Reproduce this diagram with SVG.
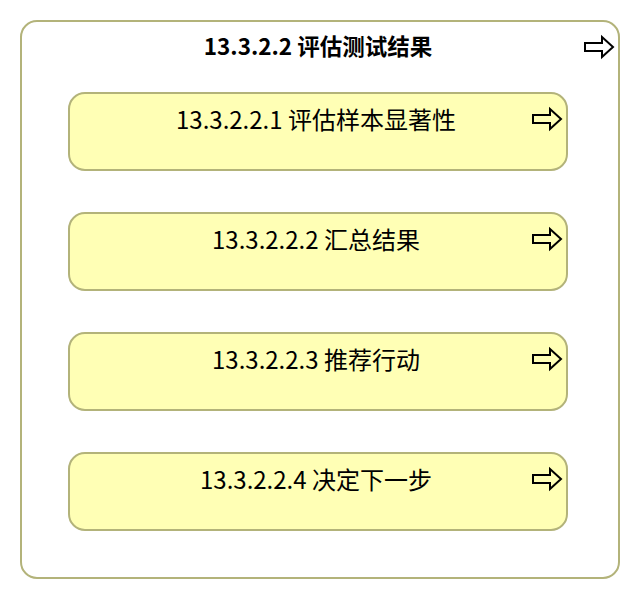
<svg xmlns="http://www.w3.org/2000/svg" width="640" height="600" viewBox="0 0 640 600">
<defs>
<style>
.outer{fill:#ffffff;stroke:#b3b37a;stroke-width:2}
.box{fill:#ffffb5;stroke:#b3b37a;stroke-width:2}
.arr{fill:#ffffff;stroke:#000000;stroke-width:2;stroke-linejoin:miter}
.arrin{fill:none;stroke:#000000;stroke-width:2;stroke-linejoin:miter}
.t{font-family:"Noto Sans CJK SC","Noto Sans",sans-serif;font-size:24px;fill:#000;text-anchor:middle}
.title{font-family:"Noto Sans CJK SC","Noto Sans",sans-serif;font-size:22.5px;font-weight:bold;fill:#000;text-anchor:middle}
</style>
<path id="arrow" d="M0,-4 H17 V-10 L28,0 L17,10 V4 H0 Z"/>
</defs>
<g id="container">
<rect class="outer" x="21" y="21" width="598" height="557" rx="16" ry="16"/>
<text class="title" x="318" y="55">13.3.2.2 评估测试结果</text>
<use href="#arrow" class="arr" x="585" y="47"/>
</g>
<g id="node1">
<rect class="box" x="69" y="93" width="498" height="77" rx="16" ry="16"/>
<text class="t" x="316" y="129">13.3.2.2.1 评估样本显著性</text>
<use href="#arrow" class="arrin" x="533" y="119"/>
</g>
<g id="node2">
<rect class="box" x="69" y="213" width="498" height="77" rx="16" ry="16"/>
<text class="t" x="316" y="249">13.3.2.2.2 汇总结果</text>
<use href="#arrow" class="arrin" x="533" y="239"/>
</g>
<g id="node3">
<rect class="box" x="69" y="333" width="498" height="77" rx="16" ry="16"/>
<text class="t" x="316" y="369">13.3.2.2.3 推荐行动</text>
<use href="#arrow" class="arrin" x="533" y="359"/>
</g>
<g id="node4">
<rect class="box" x="69" y="453" width="498" height="77" rx="16" ry="16"/>
<text class="t" x="316" y="489">13.3.2.2.4 决定下一步</text>
<use href="#arrow" class="arrin" x="533" y="479"/>
</g>
<g id="connectors"></g>
</svg>
